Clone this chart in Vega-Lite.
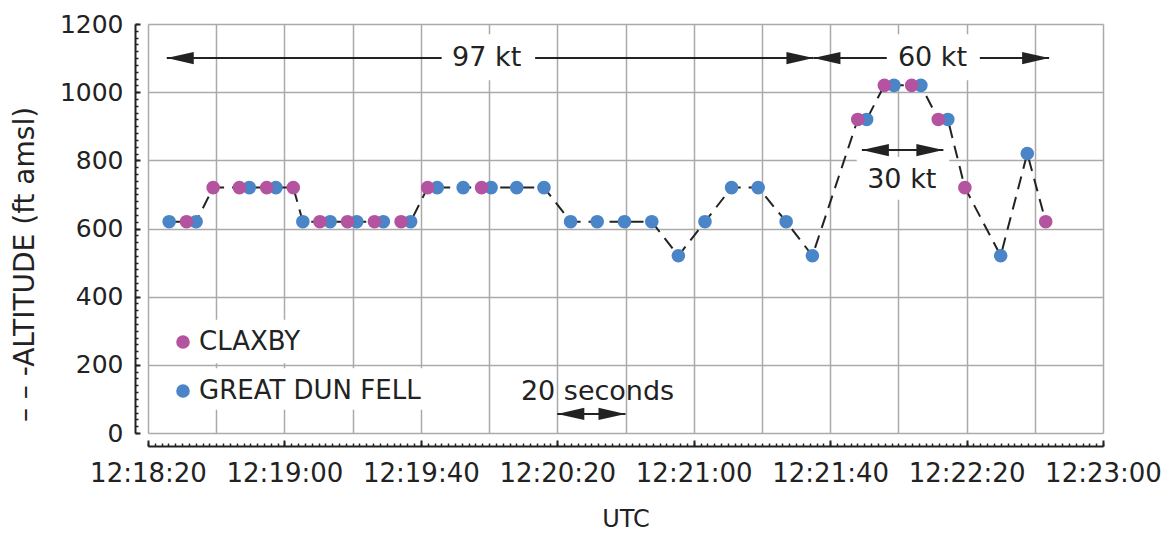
{
  "$schema": "https://vega.github.io/schema/vega-lite/v6.json",
  "width": 955,
  "height": 409,
  "autosize": {"type": "none"},
  "padding": {"left": 148, "top": 24, "right": 69, "bottom": 101},
  "background": "white",
  "config": {"font": "DejaVu Sans", "view": {"stroke": null}},
  "datasets": {
    "radar": [
      {"station": "GREAT DUN FELL", "sec": 26.2, "alt": 620},
      {"station": "GREAT DUN FELL", "sec": 34.1, "alt": 620},
      {"station": "GREAT DUN FELL", "sec": 49.7, "alt": 720},
      {"station": "GREAT DUN FELL", "sec": 57.5, "alt": 720},
      {"station": "GREAT DUN FELL", "sec": 65.4, "alt": 620},
      {"station": "GREAT DUN FELL", "sec": 73.4, "alt": 620},
      {"station": "GREAT DUN FELL", "sec": 81.2, "alt": 620},
      {"station": "GREAT DUN FELL", "sec": 89.0, "alt": 620},
      {"station": "GREAT DUN FELL", "sec": 97.0, "alt": 620},
      {"station": "GREAT DUN FELL", "sec": 104.8, "alt": 720},
      {"station": "GREAT DUN FELL", "sec": 112.4, "alt": 720},
      {"station": "GREAT DUN FELL", "sec": 120.6, "alt": 720},
      {"station": "GREAT DUN FELL", "sec": 128.1, "alt": 720},
      {"station": "GREAT DUN FELL", "sec": 136.1, "alt": 720},
      {"station": "GREAT DUN FELL", "sec": 143.9, "alt": 620},
      {"station": "GREAT DUN FELL", "sec": 151.7, "alt": 620},
      {"station": "GREAT DUN FELL", "sec": 159.7, "alt": 620},
      {"station": "GREAT DUN FELL", "sec": 167.7, "alt": 620},
      {"station": "GREAT DUN FELL", "sec": 175.5, "alt": 520},
      {"station": "GREAT DUN FELL", "sec": 183.3, "alt": 620},
      {"station": "GREAT DUN FELL", "sec": 191.1, "alt": 720},
      {"station": "GREAT DUN FELL", "sec": 198.9, "alt": 720},
      {"station": "GREAT DUN FELL", "sec": 207.1, "alt": 620},
      {"station": "GREAT DUN FELL", "sec": 214.8, "alt": 520},
      {"station": "GREAT DUN FELL", "sec": 230.7, "alt": 920},
      {"station": "GREAT DUN FELL", "sec": 238.7, "alt": 1020},
      {"station": "GREAT DUN FELL", "sec": 246.6, "alt": 1020},
      {"station": "GREAT DUN FELL", "sec": 254.5, "alt": 920},
      {"station": "GREAT DUN FELL", "sec": 270.0, "alt": 520},
      {"station": "GREAT DUN FELL", "sec": 277.8, "alt": 820},
      {"station": "CLAXBY", "sec": 31.3, "alt": 620},
      {"station": "CLAXBY", "sec": 39.1, "alt": 720},
      {"station": "CLAXBY", "sec": 46.8, "alt": 720},
      {"station": "CLAXBY", "sec": 54.8, "alt": 720},
      {"station": "CLAXBY", "sec": 62.6, "alt": 720},
      {"station": "CLAXBY", "sec": 70.4, "alt": 620},
      {"station": "CLAXBY", "sec": 78.5, "alt": 620},
      {"station": "CLAXBY", "sec": 86.4, "alt": 620},
      {"station": "CLAXBY", "sec": 94.2, "alt": 620},
      {"station": "CLAXBY", "sec": 102.0, "alt": 720},
      {"station": "CLAXBY", "sec": 117.8, "alt": 720},
      {"station": "CLAXBY", "sec": 228.1, "alt": 920},
      {"station": "CLAXBY", "sec": 235.9, "alt": 1020},
      {"station": "CLAXBY", "sec": 243.9, "alt": 1020},
      {"station": "CLAXBY", "sec": 251.7, "alt": 920},
      {"station": "CLAXBY", "sec": 259.5, "alt": 720},
      {"station": "CLAXBY", "sec": 283.2, "alt": 620}
    ],
    "boxes": [
      {"sec": 106.1, "sec2": 133.5, "alt": 1035, "alt2": 1170},
      {"sec": 236.6, "sec2": 263.9, "alt": 1035, "alt2": 1170},
      {"sec": 227.8, "sec2": 254.9, "alt": 684, "alt2": 810},
      {"sec": 35.0, "sec2": 64.6, "alt": 205, "alt2": 332},
      {"sec": 35.0, "sec2": 104.5, "alt": 68, "alt2": 190}
    ],
    "arrows": [
      {"sec": 25.5, "sec2": 215.1, "alt": 1100},
      {"sec": 215.1, "sec2": 284.2, "alt": 1100},
      {"sec": 229.3, "sec2": 253.2, "alt": 830},
      {"sec": 140.0, "sec2": 160.0, "alt": 56}
    ],
    "heads": [
      {"sec": 25.5, "alt": 1100, "dir": "left"},
      {"sec": 215.1, "alt": 1100, "dir": "right"},
      {"sec": 215.1, "alt": 1100, "dir": "left"},
      {"sec": 284.2, "alt": 1100, "dir": "right"},
      {"sec": 229.3, "alt": 830, "dir": "left"},
      {"sec": 253.2, "alt": 830, "dir": "right"},
      {"sec": 140.0, "alt": 56, "dir": "left"},
      {"sec": 160.0, "alt": 56, "dir": "right"}
    ],
    "notes": [
      {"sec": 119.3, "alt": 1100, "text": "97 kt"},
      {"sec": 250.0, "alt": 1100, "text": "60 kt"},
      {"sec": 241.0, "alt": 742, "text": "30 kt"},
      {"sec": 151.8, "alt": 121, "text": "20 seconds"}
    ]
  },
  "layer": [
    {
      "data": {"name": "arrows"},
      "mark": {"type": "rule", "color": "#222222", "strokeWidth": 2},
      "encoding": {
        "x": {"field": "sec", "type": "quantitative",
          "scale": {"domain": [20, 300], "nice": false, "zero": false},
          "axis": {"orient": "bottom", "offset": 13, "domain": true, "domainColor": "#222222", "domainWidth": 2, "ticks": false, "labels": false, "grid": false, "title": null}},
        "x2": {"field": "sec2"},
        "y": {"field": "alt", "type": "quantitative",
          "scale": {"domain": [0, 1200], "nice": false, "zero": true},
          "axis": {"orient": "left", "offset": 13, "domain": true, "domainColor": "#222222", "domainWidth": 2, "ticks": false, "labels": false, "grid": false, "title": null}}
      }
    },
    {
      "data": {"name": "boxes"},
      "mark": {"type": "rect", "color": "white", "opacity": 1},
      "encoding": {
        "x": {"field": "sec", "type": "quantitative",
          "scale": {"domain": [20, 300], "nice": false, "zero": false},
          "axis": {"orient": "bottom", "grid": true, "gridColor": "#aaaaaa", "gridWidth": 1.5, "values": [20, 40, 60, 80, 100, 120, 140, 160, 180, 200, 220, 240, 260, 280, 300], "domain": false, "ticks": false, "labels": false, "title": null}},
        "x2": {"field": "sec2"},
        "y": {"field": "alt", "type": "quantitative",
          "scale": {"domain": [0, 1200], "nice": false, "zero": true},
          "axis": {"orient": "left", "grid": true, "gridColor": "#aaaaaa", "gridWidth": 1.5, "values": [0, 200, 400, 600, 800, 1000, 1200], "domain": false, "ticks": false, "labels": false, "title": null}},
        "y2": {"field": "alt2"}
      }
    },
    {
      "data": {"name": "radar"},
      "mark": {"type": "line", "color": "#222222", "strokeWidth": 2, "strokeDash": [13, 8]},
      "encoding": {
        "x": {"field": "sec", "type": "quantitative",
          "scale": {"domain": [20, 300], "nice": false, "zero": false},
          "axis": {"orient": "bottom", "offset": 10, "tickSize": 3, "tickWidth": 1.5, "tickColor": "#222222", "tickCount": 140, "domain": false, "labels": false, "grid": false, "title": null}},
        "y": {"field": "alt", "type": "quantitative",
          "scale": {"domain": [0, 1200], "nice": false, "zero": true},
          "axis": {"orient": "left", "offset": 10, "tickSize": 3, "tickWidth": 1.5, "tickColor": "#222222", "tickCount": 60,
            "domain": false, "labels": false, "grid": false, "title": null}}
      }
    },
    {
      "data": {"name": "radar"},
      "mark": {"type": "circle", "size": 185, "opacity": 1, "strokeWidth": 0},
      "encoding": {
        "x": {"field": "sec", "type": "quantitative",
          "scale": {"domain": [20, 300], "nice": false, "zero": false},
          "axis": {"orient": "bottom", "offset": 7, "tickSize": 6, "tickWidth": 2, "tickColor": "#222222", "domain": false, "grid": false,
            "values": [20, 60, 100, 140, 180, 220, 260, 300],
            "labelExpr": "'12:' + (18 + floor(datum.value / 60)) + ':' + (datum.value % 60 < 10 ? '0' : '') + (datum.value % 60)",
            "labelFontSize": 26, "labelColor": "#222222", "labelPadding": 14, "labelFlush": false, "labelOverlap": false,
            "title": "UTC", "titleFontSize": 24, "titleFontWeight": "normal", "titleColor": "#222222", "titlePadding": 21}},
        "y": {"field": "alt", "type": "quantitative",
          "scale": {"domain": [0, 1200], "nice": false, "zero": true},
          "axis": {"orient": "left", "offset": 8, "tickSize": 5, "tickWidth": 2, "tickColor": "#222222", "domain": false, "grid": false,
            "values": [0, 200, 400, 600, 800, 1000, 1200], "format": "d",
            "labelFontSize": 25, "labelColor": "#222222", "labelPadding": 12, "labelFlush": false, "labelOverlap": false,
            "title": "–  –  -ALTITUDE (ft amsl)", "titleFontSize": 28, "titleFontWeight": "normal", "titleColor": "#222222",
            "titleX": -101, "titleY": 240, "titleAlign": "center", "titleAngle": -90}},
        "color": {"field": "station", "type": "nominal",
          "scale": {"domain": ["CLAXBY", "GREAT DUN FELL"], "range": ["#b4539f", "#4a85c7"]},
          "legend": {"orient": "none", "legendX": 22, "legendY": 305, "title": null, "padding": 0,
            "labelFontSize": 26, "labelColor": "#222222", "labelLimit": 0, "symbolSize": 185, "symbolType": "circle", "symbolStrokeWidth": 0,
            "labelOffset": 3, "rowPadding": 23}}
      }
    },
    {
      "data": {"name": "heads"},
      "transform": [{"filter": "datum.dir == 'left'"}],
      "mark": {"type": "point", "filled": true, "size": 729, "opacity": 1, "color": "#222222", "strokeWidth": 0, "shape": "M0,0L2,-0.45L2,0.45Z"},
      "encoding": {
        "x": {"field": "sec", "type": "quantitative", "axis": null, "scale": {"domain": [20, 300], "nice": false, "zero": false}},
        "y": {"field": "alt", "type": "quantitative", "axis": null, "scale": {"domain": [0, 1200], "nice": false, "zero": true}}
      }
    },
    {
      "data": {"name": "heads"},
      "transform": [{"filter": "datum.dir == 'right'"}],
      "mark": {"type": "point", "filled": true, "size": 729, "opacity": 1, "color": "#222222", "strokeWidth": 0, "shape": "M0,0L-2,-0.45L-2,0.45Z"},
      "encoding": {
        "x": {"field": "sec", "type": "quantitative", "axis": null, "scale": {"domain": [20, 300], "nice": false, "zero": false}},
        "y": {"field": "alt", "type": "quantitative", "axis": null, "scale": {"domain": [0, 1200], "nice": false, "zero": true}}
      }
    },
    {
      "data": {"name": "notes"},
      "mark": {"type": "text", "fontSize": 27, "color": "#222222", "align": "center", "baseline": "middle"},
      "encoding": {
        "x": {"field": "sec", "type": "quantitative", "axis": null, "scale": {"domain": [20, 300], "nice": false, "zero": false}},
        "y": {"field": "alt", "type": "quantitative", "axis": null, "scale": {"domain": [0, 1200], "nice": false, "zero": true}},
        "text": {"field": "text"}
      }
    }
  ],
  "resolve": {"axis": {"x": "independent", "y": "independent"}}
}
